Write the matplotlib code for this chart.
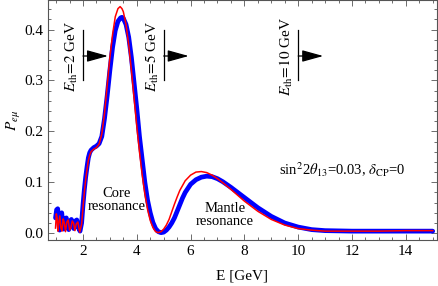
import numpy as np
import matplotlib.pyplot as plt
from matplotlib.ticker import MultipleLocator, FormatStrFormatter

plt.rcParams["font.family"] = ["Liberation Serif", "DejaVu Serif"]
plt.rcParams["mathtext.fontset"] = "stix"

# energy grid and probabilities
e_blue = [0.98, 1.02, 1.06, 1.10, 1.13, 1.17, 1.21, 1.25, 1.28, 1.33, 1.38, 1.43,
          1.47, 1.52, 1.57, 1.62, 1.66, 1.72, 1.77, 1.83, 1.89, 1.95, 2.0, 2.05,
          2.1, 2.15, 2.2, 2.25, 2.3, 2.4, 2.5, 2.6, 2.7, 2.8, 2.9, 3.0, 3.1, 3.2,
          3.3, 3.4, 3.45, 3.5, 3.6, 3.7, 3.8, 3.9, 4.0, 4.1, 4.2, 4.3, 4.4, 4.5,
          4.6, 4.7, 4.8, 4.9, 5.0, 5.1, 5.2, 5.3, 5.4, 5.5, 5.6, 5.7, 5.8, 6.0,
          6.2, 6.4, 6.6, 6.8, 7.0, 7.2, 7.5, 8.0, 8.5, 9.0, 9.5, 10.0, 10.5, 11.0,
          12.0, 13.0, 14.0, 15.0]
p_blue = [0.030, 0.046, 0.048, 0.022, 0.006, 0.036, 0.040, 0.020, 0.008, 0.028, 0.030, 0.012,
          0.007, 0.024, 0.027, 0.014, 0.009, 0.024, 0.026, 0.011, 0.004, 0.020, 0.055, 0.085,
          0.110, 0.130, 0.148, 0.158, 0.163, 0.168, 0.171, 0.176, 0.190, 0.225, 0.270, 0.320,
          0.365, 0.398, 0.416, 0.423, 0.424, 0.422, 0.410, 0.385, 0.345, 0.295, 0.245, 0.190,
          0.145, 0.100, 0.065, 0.040, 0.021, 0.009, 0.003, 0.001, 0.002, 0.006, 0.012, 0.020,
          0.030, 0.043, 0.056, 0.069, 0.080, 0.096, 0.105, 0.110, 0.112, 0.111, 0.107, 0.101,
          0.090, 0.070, 0.050, 0.033, 0.020, 0.012, 0.007, 0.005, 0.004, 0.004, 0.004, 0.004]

e_red = [0.98, 1.01, 1.04, 1.07, 1.10, 1.14, 1.18, 1.22, 1.26, 1.30, 1.35, 1.40,
         1.45, 1.50, 1.55, 1.60, 1.65, 1.70, 1.75, 1.81, 1.88, 1.95, 2.0, 2.05,
         2.1, 2.15, 2.2, 2.25, 2.3, 2.4, 2.5, 2.6, 2.7, 2.8, 2.9, 3.0, 3.1, 3.2,
         3.3, 3.38, 3.45, 3.5, 3.6, 3.7, 3.8, 3.9, 4.0, 4.1, 4.2, 4.3, 4.4, 4.5,
         4.6, 4.7, 4.8, 4.9, 5.0, 5.1, 5.2, 5.3, 5.4, 5.5, 5.6, 5.8, 6.0, 6.2,
         6.4, 6.6, 6.8, 7.0, 7.2, 7.5, 8.0, 8.5, 9.0, 9.5, 10.0, 10.5, 11.0, 12.0,
         13.0, 14.0, 15.0]
p_red = [0.010, 0.038, 0.030, 0.004, 0.020, 0.034, 0.010, 0.004, 0.028, 0.022, 0.003, 0.022,
         0.026, 0.006, 0.010, 0.024, 0.020, 0.005, 0.018, 0.022, 0.002, 0.018, 0.050, 0.080,
         0.105, 0.125, 0.143, 0.153, 0.160, 0.165, 0.168, 0.175, 0.195, 0.235, 0.290, 0.345,
         0.390, 0.425, 0.441, 0.445, 0.441, 0.435, 0.410, 0.370, 0.320, 0.265, 0.210, 0.160,
         0.115, 0.077, 0.047, 0.025, 0.011, 0.003, 0.001, 0.003, 0.008, 0.016, 0.027, 0.042,
         0.057, 0.071, 0.084, 0.103, 0.114, 0.120, 0.121, 0.119, 0.114, 0.107, 0.099, 0.086,
         0.063, 0.043, 0.027, 0.016, 0.009, 0.006, 0.004, 0.004, 0.004, 0.005, 0.005]

thresholds = [2, 5, 10]
threshold_labels = [r"$E_{\rm th}\!=\!2$ GeV", r"$E_{\rm th}\!=\!5$ GeV", r"$E_{\rm th}\!=\!10$ GeV"]

fig = plt.figure(figsize=(4.38, 2.86), dpi=100)
ax = fig.add_axes([48 / 438, 46 / 286, 389 / 438, 240 / 286])

ax.plot(e_blue, p_blue, color="#0000ff", lw=3.4, solid_capstyle="round")
ax.plot(e_red, p_red, color="#ff0000", lw=1.1)

# threshold markers
for eth, lab in zip(thresholds, threshold_labels):
    ax.plot([eth, eth], [0.30, 0.40], color="k", lw=0.9)
    ax.annotate("", xy=(eth + 0.93, 0.348), xytext=(eth, 0.348),
                arrowprops=dict(arrowstyle="-|>,head_length=1.3,head_width=0.36",
                                color="k", lw=0.9, shrinkA=0, shrinkB=0))
    ax.text(eth - 0.42, 0.347, lab, rotation=90, ha="center", va="center", fontsize=11)

ax.text(3.26, 0.065, "Core\nresonance", ha="center", va="center", fontsize=10.5,
        linespacing=0.95)
ax.text(7.28, 0.036, "Mantle\nresonance", ha="center", va="center", fontsize=10.5,
        linespacing=0.95)
ax.text(11.65, 0.124, r"sin$^2$2$\theta_{13}$=0.03, $\delta_{\rm CP}$=0",
        ha="center", va="center", fontsize=10.5)

ax.set_xlim(0.7, 15.16)
ax.set_ylim(-0.0134, 0.458)
ax.xaxis.set_major_locator(MultipleLocator(2))
ax.xaxis.set_minor_locator(MultipleLocator(0.5))
ax.yaxis.set_major_locator(MultipleLocator(0.1))
ax.yaxis.set_minor_locator(MultipleLocator(0.02))
ax.yaxis.set_major_formatter(FormatStrFormatter("%.1f"))

frame_col = "#555555"
for sp in ax.spines.values():
    sp.set_color(frame_col)
    sp.set_linewidth(0.8)
ax.tick_params(which="both", direction="in", top=True, right=True, color=frame_col,
               labelsize=11, width=0.6)
ax.tick_params(which="major", length=4)
ax.tick_params(axis="y", pad=3)
ax.tick_params(which="minor", length=2.2)

ax.set_xlabel("E [GeV]", fontsize=11)
ax.xaxis.set_label_coords(0.5, -30 / 240)
ax.set_ylabel(r"$P_{e\mu}$", fontsize=11)
ax.yaxis.set_label_coords(-25 / 389, 0.5)

fig.savefig("out.png", dpi=100)
